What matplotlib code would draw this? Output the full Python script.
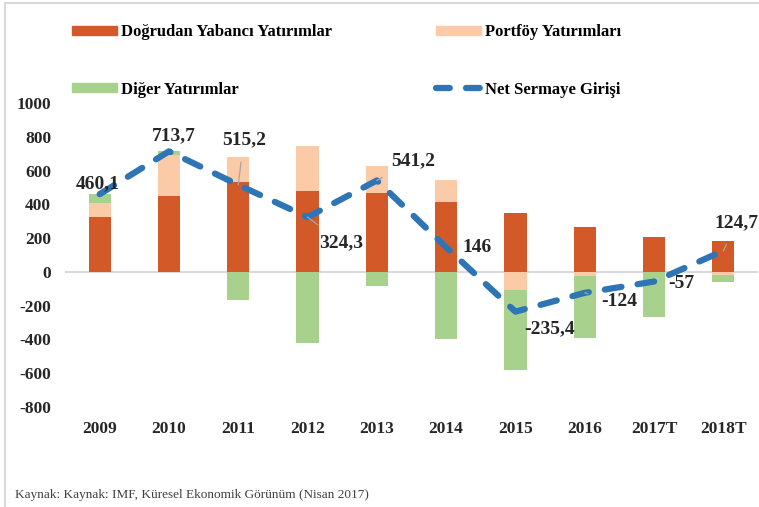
import numpy as np
import matplotlib
matplotlib.use("Agg")
import matplotlib.pyplot as plt
from matplotlib.patches import Patch
from matplotlib.lines import Line2D

plt.rcParams["axes.unicode_minus"] = False

years = ["2009", "2010", "2011", "2012", "2013", "2014", "2015", "2016", "2017T", "2018T"]
dogrudan = [326, 450, 534, 480, 468, 415, 350, 267, 208, 184]
portfoy = [83, 240, 148, 267, 160, 130, -107, -22, 0, -16]
diger = [53, 27, -166, -419, -81, -397, -472, -368, -265, -43]
net = [460.1, 713.7, 515.2, 324.3, 541.2, 146, -235.4, -124, -57, 124.7]
net_labels = ["460,1", "713,7", "515,2", "324,3", "541,2", "146", "-235,4", "-124", "-57", "124,7"]
# label positions (data coords) and whether a leader line is drawn
label_pos = [(-0.03, 522), (1.07, 806), (2.08, 783), (3.49, 172), (4.52, 658),
             (5.44, 142), (6.49, -338), (7.50, -178), (8.40, -71), (9.19, 290)]
leader = [False, False, True, True, True, False, False, True, False, True]

c_fdi = "#D35A28"
c_port = "#FBCBA7"
c_other = "#A9D18E"
c_net = "#2E75B6"
serif = "Liberation Serif"

fig = plt.figure(figsize=(7.59, 5.07), dpi=100)
ax = fig.add_axes([65 / 759, 1 - 407 / 507, 693 / 759, 304 / 507])

x = np.arange(len(years))
w = 0.32
dogrudan = np.array(dogrudan, float)
portfoy = np.array(portfoy, float)
diger = np.array(diger, float)

pos_base = np.zeros(len(x))
neg_base = np.zeros(len(x))
for vals, col in [(dogrudan, c_fdi), (portfoy, c_port), (diger, c_other)]:
    base = np.where(vals >= 0, pos_base, neg_base)
    ax.bar(x, vals, w, bottom=base, color=col, zorder=2)
    pos_base = pos_base + np.where(vals > 0, vals, 0)
    neg_base = neg_base + np.where(vals < 0, vals, 0)

ax.axhline(0, color="#d9d9d9", lw=1.5, zorder=1)

ax.plot(x, net, color=c_net, lw=4.5, dashes=(2.7, 2.6), dash_capstyle="round",
        solid_capstyle="round", zorder=3)

for i in range(len(x)):
    tx, ty = label_pos[i]
    ax.annotate(net_labels[i], xy=(x[i], net[i]), xytext=(tx, ty),
                ha="center", va="center", fontsize=14, fontweight="bold",
                family=serif, color="#262626", zorder=4,
                arrowprops=dict(arrowstyle="-", color="#a6a6a6", lw=0.9,
                                shrinkA=8, shrinkB=0) if leader[i] else None)

ax.set_xlim(-0.5, len(x) - 0.5)
ax.set_ylim(-800, 1000)
ax.set_yticks(np.arange(-800, 1001, 200))
ax.set_xticks(x)
ax.set_xticklabels(years)
for s in ax.spines.values():
    s.set_visible(False)
ax.tick_params(length=0)
ax.tick_params(axis="y", pad=10)
ax.tick_params(axis="x", pad=10)
for lab in ax.get_xticklabels() + ax.get_yticklabels():
    lab.set_fontfamily(serif)
    lab.set_fontweight("bold")
    lab.set_fontsize(12.5)
    lab.set_color("#262626")

handles = [Patch(color=c_fdi), Patch(color=c_other), Patch(color=c_port),
           Line2D([], [], color=c_net, lw=4.5, dashes=(2.2, 2.6), dash_capstyle="round")]
labels = ["Doğrudan Yabancı Yatırımlar", "Diğer Yatırımlar", "Portföy Yatırımları", "Net Sermaye Girişi"]
fig.legend(handles, labels, ncol=2, loc="upper left", bbox_to_anchor=(57 / 759, 1 - 9 / 507),
           frameon=False, handlelength=2.7, handleheight=0.46, handletextpad=0.25,
           columnspacing=6.2, labelspacing=2.5,
           prop=dict(family=serif, weight="bold", size=12))

fig.text(15 / 759, 1 - 495 / 507, "Kaynak: Kaynak: IMF, Küresel Ekonomik Görünüm (Nisan 2017)",
         family=serif, fontsize=9.5, color="#404040", va="center")

fig.add_artist(Line2D([5 / 759, 5 / 759], [0, 1 - 3 / 507], transform=fig.transFigure,
                      color="#d9d9d9", lw=1.5))
fig.add_artist(Line2D([5 / 759, 1], [1 - 3 / 507, 1 - 3 / 507], transform=fig.transFigure,
                      color="#d9d9d9", lw=1.5))

fig.savefig("out.png", dpi=100)
